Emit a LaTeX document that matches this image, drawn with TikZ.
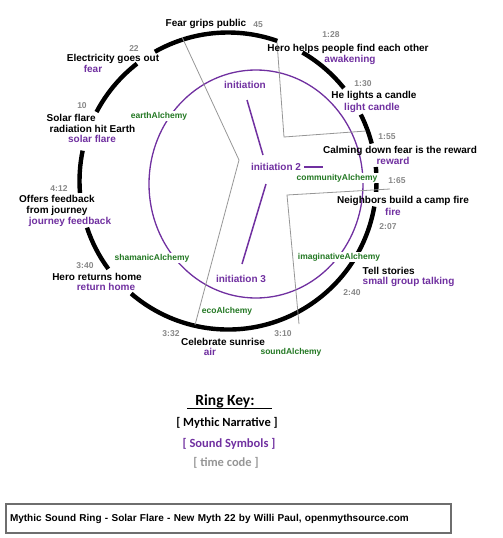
\documentclass[tikz,border=0pt]{standalone}
\usepackage{fontspec}
\setmainfont{Liberation Sans}
\newfontfamily\keyfont{Carlito}
\definecolor{purp}{RGB}{112,48,160}
\definecolor{grn}{RGB}{35,120,35}
\definecolor{tgray}{RGB}{135,135,135}
\definecolor{lgray}{RGB}{150,150,150}
\definecolor{boxgray}{RGB}{110,110,110}
\tikzset{
  ringline/.style={line width=4.4pt, black},
  innerring/.style={purp, line width=1.3pt},
  spoke/.style={purp, line width=1.5pt},
  thread/.style={lgray, line width=0.8pt},
  nar/.style={font=\bfseries\fontsize{10}{11}\selectfont, text=black, inner sep=0.5pt},
  snd/.style={font=\bfseries\fontsize{10}{11}\selectfont, text=purp, inner sep=0.5pt},
  tcode/.style={font=\bfseries\fontsize{8.5}{9}\selectfont, text=tgray, inner sep=0.5pt},
  alch/.style={font=\bfseries\fontsize{8.5}{9}\selectfont, text=grn, fill=white, inner sep=0.6pt},
  keytxt/.style={font=\keyfont\bfseries\fontsize{12.5}{14}\selectfont, inner sep=0.5pt},
  titlebox/.style={draw=boxgray, line width=1.2pt, text width=437pt, inner xsep=4pt,
    minimum height=29pt, align=left, font=\bfseries\fontsize{10}{12}\selectfont}
}
\begin{document}
\begin{tikzpicture}[x=1pt,y=-1pt]
\useasboundingbox (0,0) rectangle (503,538);

% outer black ring (segments)
\coordinate (C) at (228,181);
\foreach \a/\b in {240.5/289.4, 300.1/321.3, 333.4/345.4, 354.6/356.9, 360.8/364.2,
                   369.9/490.7, 143.7/161.7, 175.4/191.8, 207.7/232.2}
  \draw[ringline] (C) ++(\a:148.5) arc[start angle=\a, end angle=\b, radius=148.5];

% inner purple ring
\coordinate (P) at (256,184);
\draw[innerring] (P) ellipse [x radius=107, y radius=114];

% gray threads
\coordinate (g1a) at (182,37);
\coordinate (g1b) at (239,160);
\coordinate (g1c) at (195,325);
\draw[thread] (g1a) -- (g1b) -- (g1c);
\coordinate (g2a) at (277,42);
\coordinate (g2b) at (284,137);
\coordinate (g2c) at (366,131);
\draw[thread] (g2a) -- (g2b) -- (g2c);
\coordinate (g3a) at (390,189);
\coordinate (g3b) at (287,195);
\coordinate (g3c) at (299,324);
\draw[thread] (g3a) -- (g3b) -- (g3c);

% purple spokes
\coordinate (s1a) at (247,100); \coordinate (s1b) at (263,155);
\coordinate (s2a) at (304,167); \coordinate (s2b) at (323,167);
\coordinate (s3a) at (266,184); \coordinate (s3b) at (242,264);
\draw[spoke] (s1a) -- (s1b);
\draw[spoke] (s2a) -- (s2b);
\draw[spoke] (s3a) -- (s3b);

% initiation labels
\node[snd] (i1) at (245,85) {initiation};
\node[snd] (i2) at (276,167) {initiation 2};
\node[snd] (i3) at (241,279) {initiation 3};

% narrative
\node[nar] (n1) at (206,24) {Fear grips public};
\node[nar] (n2) at (348,49) {Hero helps people find each other};
\node[nar] (n3) at (374,96) {He lights a candle};
\node[nar] (n4) at (400,151) {Calming down fear is the reward};
\node[nar] (n5) at (403,201) {Neighbors build a camp fire};
\node[nar, anchor=west] (n6) at (362,271) {Tell stories};
\node[nar] (n7) at (223,342) {Celebrate sunrise};
\node[nar] (n8) at (97,277) {Hero returns home};
\node[nar, align=center] (n9) at (57,205.5) {Offers feedback\\from journey};
\node[nar, anchor=west] (n10a) at (46,118) {Solar flare};
\node[nar, anchor=west] (n10b) at (49,128.5) {radiation hit Earth};
\node[nar] (n11) at (113,59) {Electricity goes out};

% sound symbols
\node[snd] (m2) at (350,60) {awakening};
\node[snd] (m3) at (372,108) {light candle};
\node[snd] (m4) at (393,161) {reward};
\node[snd] (m5) at (393,212) {fire};
\node[snd, anchor=west] (m6) at (362,282) {small group talking};
\node[snd] (m7) at (210,352) {air};
\node[snd] (m8) at (106,287) {return home};
\node[snd] (m9) at (70,222) {journey feedback};
\node[snd] (m10) at (92,139) {solar flare};
\node[snd] (m11) at (93,69) {fear};

% time codes
\node[tcode] (t1) at (258,25) {45};
\node[tcode] (t2) at (331,35) {1:28};
\node[tcode] (t3) at (363,84) {1:30};
\node[tcode] (t4) at (387,137) {1:55};
\node[tcode] (t5) at (397,181) {1:65};
\node[tcode] (t6) at (388,227) {2:07};
\node[tcode] (t7) at (352,293) {2:40};
\node[tcode] (t8) at (283,334) {3:10};
\node[tcode] (t9) at (171,334) {3:32};
\node[tcode] (t10) at (85,266) {3:40};
\node[tcode] (t11) at (59,189) {4:12};
\node[tcode] (t12) at (82,106) {10};
\node[tcode] (t13) at (134,49) {22};

% alchemy
\node[alch] (a1) at (337,178) {communityAlchemy};
\node[alch] (a2) at (339,257) {imaginativeAlchemy};
\node[alch] (a3) at (291,352) {soundAlchemy};
\node[alch] (a4) at (227,311) {ecoAlchemy};
\node[alch] (a5) at (152,258) {shamanicAlchemy};
\node[alch] (a6) at (159,116) {earthAlchemy};

% ring key
\node[keytxt, font=\keyfont\bfseries\fontsize{15.5}{17}\selectfont] (rk) at (225,401) {Ring Key:};
\coordinate (ul1) at (187,408);
\coordinate (ul2) at (272,408);
\draw[line width=1pt] (ul1) -- (ul2);
\node[keytxt] (k1) at (227,423) {[ Mythic Narrative ]};
\node[keytxt, text=purp] (k2) at (229,444) {[ Sound Symbols ]};
\node[keytxt, text=lgray] (k3) at (226,463) {[ time code ]};

% title box
\node[titlebox] (title) at (228.5,518.5) {Mythic Sound Ring - Solar Flare - New Myth 22 by Willi Paul, openmythsource.com};
\end{tikzpicture}
\end{document}
